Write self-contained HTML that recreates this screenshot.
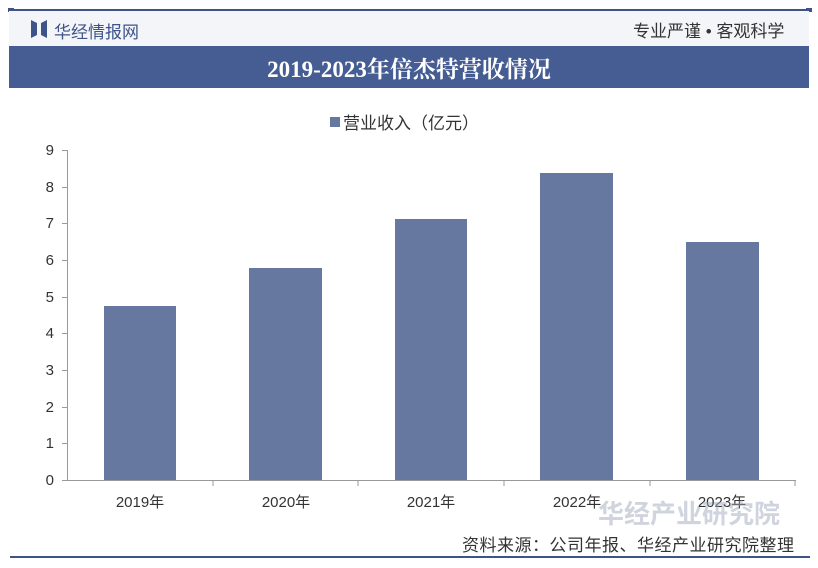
<!DOCTYPE html>
<html><head><meta charset="utf-8"><style>
body{margin:0;width:818px;height:568px;background:#fff;position:relative;overflow:hidden;font-family:"Liberation Sans","Noto Sans CJK SC",sans-serif}
.a{position:absolute}
</style></head><body>
<div class="a" style="left:10px;top:9px;width:800px;height:2px;background:#3e5489"></div>
<div class="a" style="left:8px;top:8px;width:6px;height:4px;background:#3e5489"></div>
<div class="a" style="left:806px;top:8px;width:6px;height:4px;background:#3e5489"></div>
<div class="a" style="left:9px;top:11px;width:800px;height:35px;background:#f3f5f9"></div>
<svg class="a" style="left:31px;top:20px" width="16" height="18"><path d="M0 0L6 3V15L0 18Z M16 0L10 3V15L16 18Z" fill="#3e5489"/></svg>
<div class="a" style="left:54px;top:18px;font-size:17px;color:#3e5489">华经情报网</div>
<div class="a" style="left:633px;top:17px;font-size:17px;color:#333">专业严谨 • 客观科学</div>
<div class="a" style="left:9px;top:46px;width:800px;height:42px;background:#455d93"></div>
<div class="a" style="left:9px;top:51px;width:800px;text-align:center;font-size:23px;font-weight:bold;color:#fff;font-family:'Liberation Serif','Noto Serif CJK SC',serif">2019-2023年倍杰特营收情况</div>
<div class="a" style="left:330px;top:117px;width:10px;height:10px;background:#66789f"></div>
<div class="a" style="left:343px;top:109px;font-size:17px;color:#333">营业收入（亿元）</div>
<svg class="a" style="left:0;top:0" width="818" height="568">
<g font-size="15" fill="#333" text-anchor="end" font-family="Liberation Sans">
<text x="54" y="485">0</text><text x="54" y="448">1</text><text x="54" y="412">2</text><text x="54" y="375">3</text><text x="54" y="338">4</text><text x="54" y="302">5</text><text x="54" y="265">6</text><text x="54" y="228">7</text><text x="54" y="192">8</text><text x="54" y="155">9</text>
</g>
<line x1="67.5" y1="150" x2="67.5" y2="481" stroke="#999"/>
<line x1="67" y1="480.5" x2="796" y2="480.5" stroke="#999"/>
<g stroke="#999">
<line x1="62" y1="480.5" x2="67" y2="480.5"/><line x1="62" y1="443.5" x2="67" y2="443.5"/><line x1="62" y1="407.5" x2="67" y2="407.5"/><line x1="62" y1="370.5" x2="67" y2="370.5"/><line x1="62" y1="333.5" x2="67" y2="333.5"/><line x1="62" y1="297.5" x2="67" y2="297.5"/><line x1="62" y1="260.5" x2="67" y2="260.5"/><line x1="62" y1="223.5" x2="67" y2="223.5"/><line x1="62" y1="187.5" x2="67" y2="187.5"/><line x1="62" y1="150.5" x2="67" y2="150.5"/>
<line x1="213" y1="480" x2="213" y2="486"/><line x1="358" y1="480" x2="358" y2="486"/><line x1="504" y1="480" x2="504" y2="486"/><line x1="650" y1="480" x2="650" y2="486"/><line x1="795" y1="480" x2="795" y2="486"/>
</g>
<g fill="#66789f">
<rect x="104" y="306" width="72" height="174"/>
<rect x="249" y="268" width="73" height="212"/>
<rect x="395" y="219" width="72" height="261"/>
<rect x="540" y="173" width="73" height="307"/>
<rect x="686" y="242" width="73" height="238"/>
</g>
<g font-size="15" fill="#333" text-anchor="middle" font-family="Liberation Sans,Noto Sans CJK SC">
<text x="140" y="507">2019年</text><text x="286" y="507">2020年</text><text x="431" y="507">2021年</text><text x="577" y="507">2022年</text><text x="722" y="507">2023年</text>
</g>
</svg>
<div class="a" style="left:598px;top:494px;font-size:26px;font-weight:bold;color:rgba(160,170,190,0.5)">华经产业研究院</div>
<div class="a" style="left:462px;top:531px;font-size:17px;letter-spacing:0.5px;color:#333">资料来源：公司年报、华经产业研究院整理</div>
<div class="a" style="left:10px;top:556px;width:800px;height:2px;background:#3e5489"></div>
</body></html>
